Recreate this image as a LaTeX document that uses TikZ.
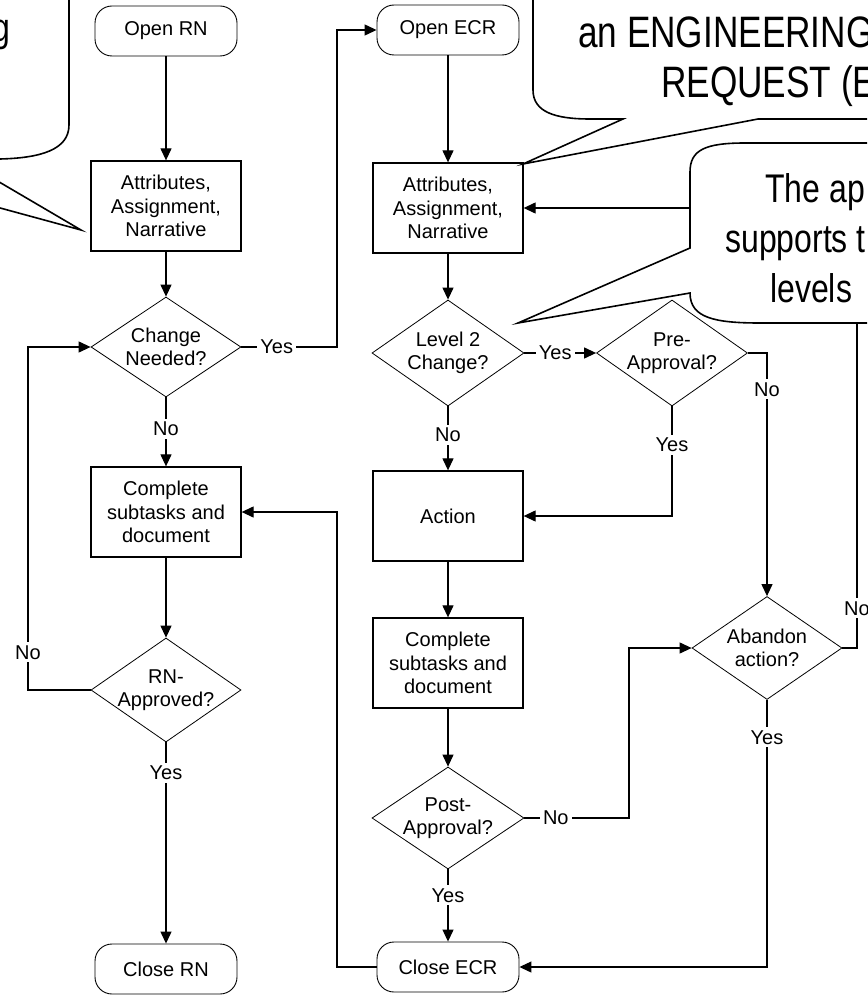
\documentclass[tikz,border=0pt]{standalone}
\usepackage{fontspec}
\setmainfont{Liberation Sans}
\newfontfamily\narrowfont[FakeStretch=0.8]{Liberation Sans}
\usetikzlibrary{shapes.geometric,arrows.meta}
\newcommand{\flowfont}{\fontsize{20pt}{23.5pt}\selectfont}
\tikzset{
	terminal/.style={draw, line width=0.9pt, rounded corners=17pt, minimum width=142pt, minimum height=50pt, inner sep=0pt, font=\flowfont},
	process/.style={draw, line width=1.3pt, minimum width=150pt, minimum height=90pt, inner sep=0pt, align=center, font=\flowfont},
	decision/.style={draw, diamond, line width=0.8pt, minimum width=150pt, minimum height=104pt, inner sep=0pt},
	dtext/.style={align=center, inner sep=0pt, font=\flowfont},
	flow/.style={line width=1.2pt, -{Triangle[length=12pt,width=11pt]}},
	lbl/.style={fill=white, inner sep=3pt, font=\flowfont},
	callout/.style={draw, fill=white, line width=1.6pt},
	bigtext/.style={anchor=base west, inner sep=0pt, font=\narrowfont\fontsize{40pt}{50pt}\selectfont}
}

\begin{document}
\begin{tikzpicture}[x=1pt, y=-1pt]
	\useasboundingbox (0,0) rectangle (867,995);
	\clip (0,0) rectangle (867,995);

	% RN column
	\node[terminal] (openrn) at (166,31) {Open RN};
	\node[process] (attrrn) at (166,206) {Attributes,\\Assignment,\\Narrative};
	\node[decision, minimum height=100pt] (chg) at (166,347) {};
	\node[dtext] (chgtxt) at (chg) {Change\\Needed?};
	\node[process] (comprn) at (166,512) {Complete\\subtasks and\\document};
	\node[decision] (rnapp) at (166,690) {};
	\node[dtext] (rnapptxt) at (rnapp) {RN-\\Approved?};
	\node[terminal] (closern) at (166,969) {Close RN};

	% ECR column
	\node[terminal] (openecr) at (448,30) {Open ECR};
	\node[process] (attrecr) at (448,208) {Attributes,\\Assignment,\\Narrative};
	\node[decision, minimum width=152pt, minimum height=106pt] (lvl) at (448,353) {};
	\node[dtext] (lvltxt) at (lvl) {Level 2\\Change?};
	\node[decision, minimum width=151pt, minimum height=106pt] (pre) at (672,353) {};
	\node[dtext] (pretxt) at (pre) {Pre-\\Approval?};
	\node[process] (action) at (448,516) {Action};
	\node[process] (compecr) at (448,663) {Complete\\subtasks and\\document};
	\node[decision, minimum width=152pt, minimum height=102pt] (post) at (448,818) {};
	\node[dtext] (posttxt) at (post) {Post-\\Approval?};
	\node[decision, minimum height=103pt] (abandon) at (767,648) {};
	\node[dtext] (abandontxt) at (abandon) {Abandon\\action?};
	\node[terminal] (closeecr) at (448,967) {Close ECR};

	% connectors
	\draw[flow] (openrn.south) -- (attrrn.north);
	\draw[flow] (attrrn.south) -- (chg.north);
	\draw[flow] (chg.south) -- node[lbl, pos=0.46] {No} (comprn.north);
	\draw[flow] (comprn.south) -- (rnapp.north);
	\draw[flow] (rnapp.south) -- node[lbl, pos=0.15] {Yes} (closern.north);
	\draw[flow] (rnapp.west) -- (28,690) -- node[lbl, pos=0.11] {No} (28,347) -- (chg.west);
	\draw[flow] (chg.east) -- node[lbl, pos=0.37] {Yes} (337,347) -- (337,30) -- (openecr.west);

	\draw[flow] (openecr.south) -- (attrecr.north);
	\draw[flow] (attrecr.south) -- (lvl.north);
	\draw[flow] (lvl.south) -- node[lbl, pos=0.44] {No} (action.north);
	\draw[flow] (lvl.east) -- node[lbl, pos=0.43] {Yes} (pre.west);
	\draw[flow] (pre.south) -- node[lbl, pos=0.35] {Yes} (672,516) -- (action.east);
	\draw[flow] (pre.east) -- (767,353) -- node[lbl, pos=0.15] {No} (abandon.north);
	\draw[flow] (action.south) -- (compecr.north);
	\draw[flow] (compecr.south) -- (post.north);
	\draw[flow] (post.south) -- node[lbl, pos=0.36] {Yes} (closeecr.north);
	\draw[flow] (post.east) -- node[lbl, pos=0.3] {No} (629,818) -- (629,648) -- (abandon.west);
	\draw[flow] (abandon.south) -- node[lbl, pos=0.14] {Yes} (767,967) -- (closeecr.east);
	\draw[flow] (abandon.east) -- (857,648) -- node[lbl, pos=0.09] {No} (857,208) -- (attrecr.east);
	\draw[flow] (closeecr.west) -- (337,967) -- (337,512) -- (comprn.east);

	% callouts
	\draw[callout] (69,-10) -- (69,125) .. controls (69,150) and (40,158) .. (0,159)
		-- (-40,159) -- (81,230) -- (-180,159) -- (-250,159) -- (-250,-10) -- cycle;
	\node[bigtext, anchor=base east] (calA1) at (10,42) {g};

	\draw[callout] (533,-10) -- (533,90) .. controls (533,112) and (555,119) .. (590,119)
		-- (623,119) -- (523,164) -- (758,119) -- (900,119) -- (900,-10) -- cycle;
	\node[bigtext, font=\narrowfont\fontsize{44pt}{50pt}\selectfont] (calB1) at (578,48) {an ENGINEERING};
	\node[bigtext, font=\narrowfont\fontsize{44pt}{50pt}\selectfont] (calB2) at (661,98) {REQUEST (E};

	\draw[callout] (900,143) -- (745,143) .. controls (705,143) and (690,150) .. (690,172)
		-- (690,248) -- (518,323) -- (690,293) .. controls (690,318) and (715,323) .. (760,323)
		-- (900,323) -- cycle;
	\node[bigtext] (calC1) at (765,202) {The ap};
	\node[bigtext] (calC2) at (725,252) {supports t};
	\node[bigtext] (calC3) at (770,302) {levels};
\end{tikzpicture}
\end{document}
